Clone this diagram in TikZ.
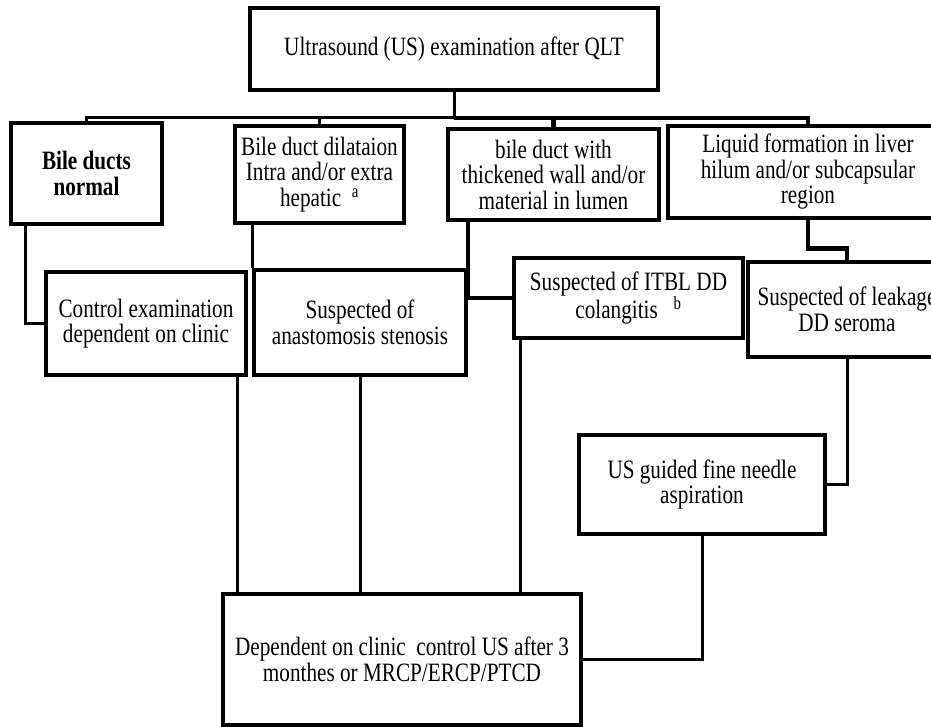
\documentclass[tikz,border=0pt]{standalone}
\usepackage{fontspec}
\setmainfont{Liberation Serif}[FakeStretch=0.8]
\usepackage{tikz}
\usetikzlibrary{positioning, shadows}

\begin{document}
\begin{tikzpicture}[x=1pt, y=-1pt,
  box/.style={draw, line width=3.5pt, fill=white, align=center, inner sep=0pt,
    drop shadow={shadow xshift=1.5pt, shadow yshift=-1.5pt, fill=black, opacity=1},
    font=\fontsize{26.5}{25.5}\selectfont},
  link/.style={line width=3pt},
  heavy/.style={line width=4.5pt}]
  \useasboundingbox[fill=white] (0,0) rectangle (931,727);

  \node[box, minimum width=408pt, minimum height=82pt] (title) at (454,49) {Ultrasound (US) examination after QLT};

  % findings
  \node[box, minimum width=151pt, minimum height=101pt] (normal) at (86.5,173.5) {\bfseries Bile ducts\\\bfseries normal};
  \node[box, minimum width=169pt, minimum height=97pt] (dilat) at (319.5,174.5) {Bile duct dilataion\\Intra and/or extra\\hepatic ~\textsuperscript{a}};
  \node[box, minimum width=211pt, minimum height=91pt] (wall) at (553.5,174.5) {bile duct with\\thickened wall and/or\\material in lumen};
  \node[box, minimum width=280pt, minimum height=92pt] (liquid) at (808,172) {Liquid formation in liver\\hilum and/or subcapsular\\region};

  % suspicions
  \node[box, minimum width=200pt, minimum height=103pt] (control) at (146,323.5) {Control examination\\dependent on clinic};
  \node[box, minimum width=212pt, minimum height=105pt] (stenosis) at (360,322.5) {Suspected of\\anastomosis stenosis};
  \node[box, minimum width=229pt, minimum height=80pt] (itbl) at (628.5,298) {Suspected of ITBL DD\\colangitis ~~\textsuperscript{b}};
  \node[box, minimum width=198pt, minimum height=95pt] (leak) at (847,309.5) {Suspected of leakage\\DD seroma};

  \node[box, minimum width=246pt, minimum height=99pt] (fna) at (702,484.5) {US guided fine needle\\aspiration};
  \node[box, minimum width=358pt, minimum height=131pt] (final) at (402,659.5) {Dependent on clinic~ control US after 3\\monthes or MRCP/ERCP/PTCD};

  \coordinate (bus) at (454,118);
  \draw[link] (title.south) -- (bus);
  \draw[link] (normal.north) |- (bus);
  \draw[link] (dilat.north) |- (bus);
  \draw[heavy] (wall.north) |- (bus);
  \draw[heavy] (liquid.north) |- (bus);

  \draw[link] ([xshift=16pt]normal.south west) |- (control.west);
  \draw[link] (dilat.south -| stenosis.west) -- (stenosis.north west);
  \draw[heavy] (wall.south -| stenosis.east) |- (itbl.west);
  \draw[heavy] (liquid.south) -- ++(0,29) -| (leak.north);

  \draw[link] ([xshift=-10pt]control.south east) -- ([xshift=-10pt]control.south east |- final.north);
  \draw[link] (stenosis.south) -- (stenosis.south |- final.north);
  \draw[link] ([xshift=8pt]itbl.south west) -- ([xshift=8pt]itbl.south west |- final.north);
  \draw[link] (leak.south) |- (fna.east);
  \draw[link] (fna.south) |- (final.east);
\end{tikzpicture}
\end{document}
